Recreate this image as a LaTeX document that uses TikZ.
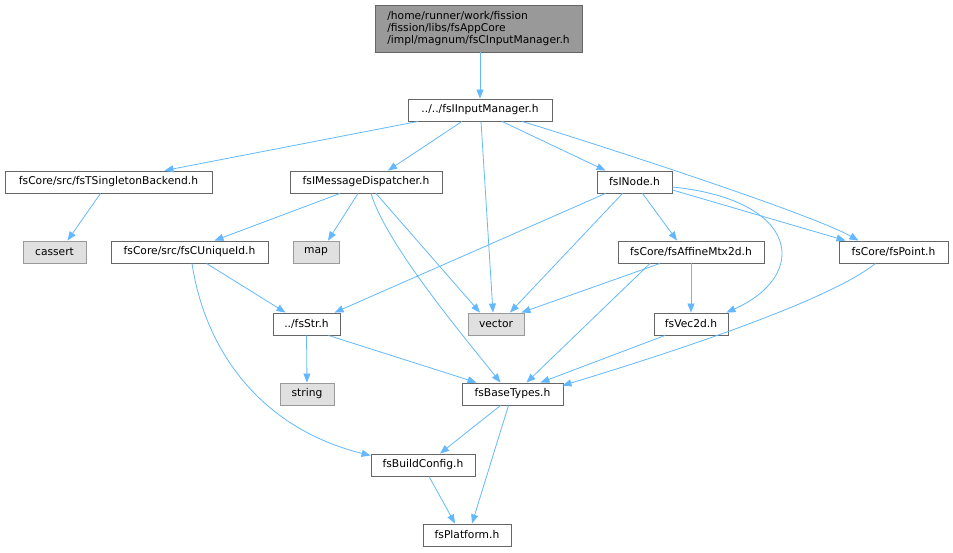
\documentclass[tikz,border=0pt]{standalone}
\usepackage{fontspec}
\setmainfont{DejaVu Sans}
\usetikzlibrary{arrows.meta}
\definecolor{edgec}{HTML}{63B8FF}
\definecolor{bordc}{HTML}{666666}
\definecolor{sysfill}{HTML}{E0E0E0}
\definecolor{sysbord}{HTML}{999999}
\definecolor{topfill}{HTML}{999999}
\tikzset{
  filebox/.style={draw=bordc, line width=0.9pt, fill=white, inner sep=0pt, minimum height=22pt,
    font=\fontsize{10.7}{12}\selectfont, text=black},
  sysbox/.style={filebox, draw=sysbord, fill=sysfill},
  topbox/.style={filebox, fill=topfill, minimum height=47pt, align=left},
  dep/.style={draw=edgec, line width=0.8pt, -{Triangle[length=9pt,width=7pt]}, fill=none},
}
\begin{document}
\begin{tikzpicture}[x=1pt,y=-1pt]
\useasboundingbox (0,0) rectangle (953,552);
\node[topbox, minimum width=207pt] (top) at (478.5,28.5) {/home/runner/work/fission\\/fission/libs/fsAppCore\\/impl/magnum/fsCInputManager.h};
\node[filebox, minimum width=144pt] (inputmgr) at (480,110) {../../fsIInputManager.h};
\node[filebox, minimum width=207pt] (singleton) at (108.5,182) {fsCore/src/fsTSingletonBackend.h};
\node[filebox, minimum width=152pt] (msgdisp) at (366,182) {fsIMessageDispatcher.h};
\node[filebox, minimum width=75pt] (inode) at (634.5,182) {fsINode.h};
\node[sysbox, minimum width=63pt] (cassert) at (54.5,252) {cassert};
\node[filebox, minimum width=157pt] (uniqueid) at (189.5,252) {fsCore/src/fsCUniqueId.h};
\node[sysbox, minimum width=46pt] (map) at (316,252) {map};
\node[filebox, minimum width=146pt] (affine) at (691,252) {fsCore/fsAffineMtx2d.h};
\node[filebox, minimum width=109pt] (point) at (893.5,252) {fsCore/fsPoint.h};
\node[filebox, minimum width=67pt] (fsstr) at (306.5,324) {../fsStr.h};
\node[sysbox, minimum width=56pt] (vector) at (496,324) {vector};
\node[filebox, minimum width=74pt] (vec2d) at (691,324) {fsVec2d.h};
\node[sysbox, minimum width=54pt] (string) at (307,394) {string};
\node[filebox, minimum width=101pt] (basetypes) at (512.5,394) {fsBaseTypes.h};
\node[filebox, minimum width=104pt] (buildconfig) at (423,465) {fsBuildConfig.h};
\node[filebox, minimum width=88pt] (platform) at (467,535) {fsPlatform.h};

\draw[dep] ([xshift=1.5pt]top.south) -- (inputmgr.north);
\draw[dep] ([xshift=-62pt]inputmgr.south) -- ([xshift=56pt]singleton.north);
\draw[dep] ([xshift=-18pt]inputmgr.south) -- ([xshift=22pt]msgdisp.north);
\draw[dep] ([xshift=1pt]inputmgr.south) -- ([xshift=-3pt]vector.north);
\draw[dep] ([xshift=22pt]inputmgr.south) -- ([xshift=-29pt]inode.north);
\draw[dep] ([xshift=42pt]inputmgr.south) .. controls +(60pt,-18pt) and +(-50pt,28pt) .. ([xshift=-35pt]point.north);
\draw[dep] ([xshift=-8pt]singleton.south) -- ([xshift=13pt]cassert.north);
\draw[dep] ([xshift=-26pt]msgdisp.south) -- ([xshift=25pt]uniqueid.north);
\draw[dep] ([xshift=-8pt]msgdisp.south) -- ([xshift=12pt]map.north);
\draw[dep] ([xshift=10pt]msgdisp.south) -- ([xshift=-16pt]vector.north);
\draw[dep] ([xshift=5pt]msgdisp.south) .. controls +(15pt,-50pt) and +(-40pt,50pt) .. ([xshift=-12pt]basetypes.north);
\draw[dep] ([xshift=-29pt]inode.south) -- ([xshift=28pt]fsstr.north);
\draw[dep] ([xshift=-12pt]inode.south) -- ([xshift=14pt]vector.north);
\draw[dep] ([xshift=8pt]inode.south) -- ([xshift=-14pt]affine.north);
\draw[dep] ([yshift=-5pt]inode.east) .. controls (800,200) and (810,275) .. ([xshift=-2pt]vec2d.north east);
\draw[dep] ([yshift=-8pt]inode.east) -- ([xshift=-48pt]point.north);
\draw[dep] ([xshift=17pt]uniqueid.south) -- ([xshift=-21pt]fsstr.north);
\draw[dep] ([xshift=2.5pt]uniqueid.south) .. controls (205,350) and (260,428) .. ([yshift=-2pt]buildconfig.north west);
\draw[dep] ([xshift=-31pt]affine.south) -- ([xshift=-3pt]vector.north east);
\draw[dep] (affine.south) -- (vec2d.north);
\draw[dep] ([xshift=-41pt]affine.south) -- ([xshift=14pt]basetypes.north);
\draw[dep] ([xshift=-26pt]vec2d.south) -- ([xshift=28pt]basetypes.north);
\draw[dep] ([xshift=-18pt]point.south) .. controls (830,300) and (680,350) .. ([xshift=-1pt,yshift=-3pt]basetypes.north east);
\draw[dep] ([xshift=0pt]fsstr.south) -- ([xshift=0pt]string.north);
\draw[dep] ([xshift=22pt]fsstr.south) -- ([xshift=-36pt]basetypes.north);
\draw[dep] ([xshift=-12pt]basetypes.south) -- ([xshift=17pt]buildconfig.north);
\draw[dep] ([xshift=-4pt]basetypes.south) -- ([xshift=5pt]platform.north);
\draw[dep] ([xshift=6pt]buildconfig.south) -- ([xshift=-12pt]platform.north);
\end{tikzpicture}
\end{document}
